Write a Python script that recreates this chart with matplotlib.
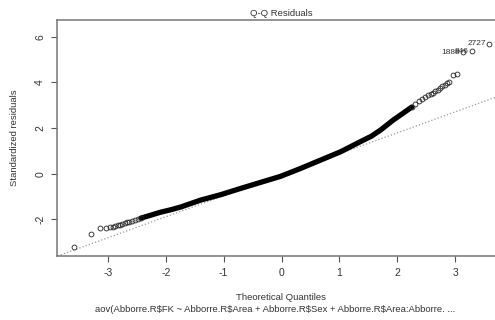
import matplotlib
matplotlib.use('Agg')
import matplotlib.pyplot as plt

plt.rcParams['font.family'] = ['Liberation Sans', 'DejaVu Sans']

# Valores (cuantiles teoricos vs residuos estandarizados)
tail_low_q = [-3.59, -3.29, -3.14, -3.04, -2.97, -2.92, -2.87, -2.83, -2.79,
              -2.75, -2.71, -2.67, -2.63, -2.58, -2.53, -2.48, -2.43]
tail_low_r = [-3.23, -2.65, -2.40, -2.38, -2.35, -2.32, -2.29, -2.26, -2.23,
              -2.20, -2.17, -2.14, -2.11, -2.07, -2.03, -1.99, -1.95]

body_q = [-2.43, -2.26, -2.09, -1.91, -1.74, -1.40, -1.05, -0.71, -0.36,
          -0.02, 0.33, 0.67, 1.02, 1.36, 1.55, 1.71, 1.93, 2.10, 2.25]
body_r = [-1.95, -1.82, -1.69, -1.58, -1.46, -1.16, -0.92, -0.65, -0.38,
          -0.12, 0.23, 0.59, 0.96, 1.40, 1.64, 1.91, 2.35, 2.65, 2.92]

tail_hi_q = [2.25, 2.31, 2.37, 2.43, 2.48, 2.53, 2.58, 2.62, 2.66, 2.70,
             2.74, 2.78, 2.82, 2.86, 2.90, 2.97, 3.04, 3.14, 3.29, 3.59]
tail_hi_r = [2.92, 3.05, 3.18, 3.28, 3.36, 3.43, 3.50, 3.55, 3.62, 3.68,
             3.76, 3.83, 3.90, 3.96, 4.04, 4.33, 4.35, 5.33, 5.36, 5.69]

# puntos etiquetados (los tres residuos mas grandes)
lab_q = [3.59, 3.29, 3.14]
lab_r = [5.69, 5.36, 5.33]
lab_txt = ['2727', '846', '1888']

# linea qqline
line_intercept = -0.05
line_slope = 0.92

xticks = [-3, -2, -1, 0, 1, 2, 3]
yticks = [-2, 0, 2, 4, 6]

fig = plt.figure(figsize=(4.95, 3.2), dpi=100)
ax = fig.add_axes([57/495, 64/320, 449/495, 236/320])

ax.axline((0, line_intercept), slope=line_slope, color='#999999',
          linestyle=':', linewidth=0.9, zorder=1)

ax.plot(body_q, body_r, color='black', linewidth=3.8,
        solid_capstyle='round', solid_joinstyle='round', zorder=3)

circ = dict(linestyle='none', marker='o', markersize=3.5,
            markerfacecolor='none', markeredgecolor='#222222',
            markeredgewidth=0.6, zorder=4)
ax.plot(tail_low_q, tail_low_r, **circ)
ax.plot(tail_hi_q, tail_hi_r, **circ)

for q, r, t in zip(lab_q, lab_r, lab_txt):
    ax.annotate(t, (q, r), xytext=(-2.5, 0), textcoords='offset points',
                ha='right', va='center', fontsize=6, color='#333333')

ax.set_xlim(-3.88, 3.88)
ax.set_ylim(-3.61, 6.74)
ax.set_xticks(xticks)
ax.set_yticks(yticks)
ax.set_xticklabels([str(v) for v in xticks])
ax.set_yticklabels([str(v) for v in yticks], rotation=90, va='center')
ax.tick_params(direction='out', length=4, width=0.8, colors='#555555',
               labelcolor='#333333', labelsize=7.5)
ax.tick_params(axis='x', pad=5)
ax.tick_params(axis='y', pad=4.5)
for s in ax.spines.values():
    s.set_color('#777777')
    s.set_linewidth(1.1)

fig.text(281.5/495, 1 - 13/320, 'Q-Q Residuals', ha='center', va='center',
         fontsize=6.8, color='#333333')
fig.text(281.5/495, 1 - 297/320, 'Theoretical Quantiles', ha='center',
         va='center', fontsize=6.8, color='#333333')
fig.text(275/495, 1 - 309/320,
         'aov(Abborre.R$FK ~ Abborre.R$Area + Abborre.R$Sex + Abborre.R$Area:Abborre. ...',
         ha='center', va='center', fontsize=6.8, color='#333333',
         parse_math=False)
fig.text(15/495, 1 - 138/320, 'Standardized residuals', ha='center',
         va='center', rotation=90, fontsize=6.8, color='#333333')

fig.savefig('out.png', dpi=100)
